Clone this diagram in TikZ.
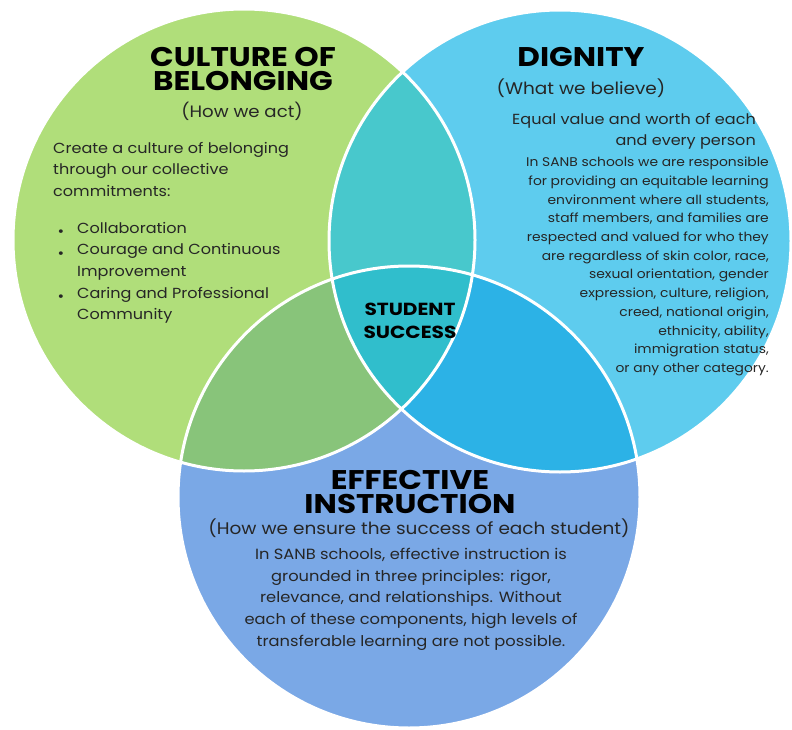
\documentclass[tikz,border=0pt]{standalone}
\usepackage{fontspec}
\setmainfont{Poppins}[FakeStretch=1.1]
\newfontfamily\titlefont{Poppins}[FakeStretch=1.15]
\definecolor{cgreen}{HTML}{B0DE7A}
\definecolor{cgreenmid}{HTML}{88C47A}
\definecolor{clblue}{HTML}{5ECCEE}
\definecolor{cteal}{HTML}{48C8CC}
\definecolor{csblue}{HTML}{2CB2E6}
\definecolor{cbblue}{HTML}{7AA8E6}
\definecolor{ccenter}{HTML}{30BECC}
\definecolor{ctext}{HTML}{262626}
\begin{document}
\begin{tikzpicture}[x=1pt,y=-1pt,
  title/.style={font=\titlefont\bfseries\fontsize{27}{24}\selectfont, text=black, align=center, inner sep=0pt},
  subtitle/.style={font=\fontsize{16.5}{18}\selectfont, text=ctext, inner sep=0pt},
  body/.style={font=\fontsize{14.6}{21.6}\selectfont, text=ctext, inner sep=0pt},
  small/.style={font=\fontsize{12.6}{18.7}\selectfont, text=ctext, inner sep=0pt, align=right},
  ring/.style={draw=white, line width=3pt}]
\useasboundingbox (0,0) rectangle (792,730);
\coordinate (cA) at (244,240);
\coordinate (cB) at (560,241);
\coordinate (cC) at (409,497);
\def\R{231}
% base circles
\fill[cgreen] (cA) circle[radius=\R];
\fill[clblue] (cB) circle[radius=\R];
\fill[cbblue] (cC) circle[radius=\R];
% pairwise overlaps
\begin{scope}
  \clip (cA) circle[radius=\R];
  \fill[cteal] (cB) circle[radius=\R];
  \fill[cgreenmid] (cC) circle[radius=\R];
\end{scope}
\begin{scope}
  \clip (cB) circle[radius=\R];
  \fill[csblue] (cC) circle[radius=\R];
\end{scope}
\begin{scope}
  \clip (cA) circle[radius=\R];
  \clip (cB) circle[radius=\R];
  \fill[ccenter] (cC) circle[radius=\R];
\end{scope}
% white outlines
\draw[ring] (cA) circle[radius=\R];
\draw[ring] (cB) circle[radius=\R];
\draw[ring] (cC) circle[radius=\R];

% Culture of belonging
\node[title] (tA) at (243,69) {CULTURE OF\\BELONGING};
\node[subtitle] (sA) at (242,111) {(How we act)};
\node[body, anchor=north west, align=left] (bA) at (53,142) {Create a culture of belonging\\through our collective\\commitments:};
\node[body, anchor=north west, align=left] (lA) at (77,222) {Collaboration\\Courage and Continuous\\Improvement\\Caring and Professional\\Community};
\node[body, anchor=base] (d1) at (61,236) {•};
\node[body, anchor=base] (d2) at (61,258) {•};
\node[body, anchor=base] (d3) at (61,301) {•};

% Dignity
\node[title] (tB) at (581,57) {DIGNITY};
\node[subtitle, font=\fontsize{16.8}{18}\selectfont] (sB) at (581,88) {(What we believe)};
\node[body, anchor=north east, align=right] (bB) at (756,113) {Equal value and worth of each\\and every person};
\node[small, anchor=north east] (pB) at (769,157) {In SANB schools we are responsible\\for providing an equitable learning\\environment where all students,\\staff members, and families are\\respected and valued for who they\\are regardless of skin color, race,\\sexual orientation, gender\\expression, culture, religion,\\creed, national origin,\\ethnicity, ability,\\immigration status,\\or any other category.};

% Student success
\node[title, font=\titlefont\bfseries\fontsize{17.5}{23}\selectfont] (tS) at (410,321) {STUDENT\\SUCCESS};

% Effective instruction
\node[title] (tC) at (410,492) {EFFECTIVE\\INSTRUCTION};
\node[subtitle, font=\fontsize{16.8}{18}\selectfont] (sC) at (419,528) {(How we ensure the success of each student)};
\node[body, anchor=north, align=center, font=\fontsize{14.8}{21.7}\selectfont] (bC) at (411,548) {In SANB schools, effective instruction is\\grounded in three principles: rigor,\\relevance, and relationships. Without\\each of these components, high levels of\\transferable learning are not possible.};
\end{tikzpicture}
\end{document}
